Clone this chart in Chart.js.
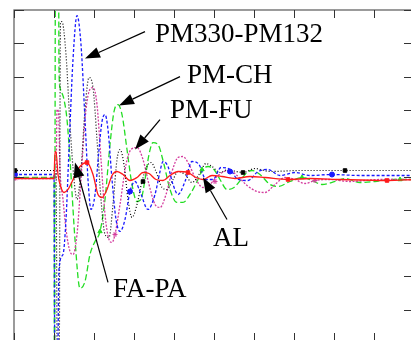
<!DOCTYPE html>
<html>
<head>
<meta charset="utf-8">
<script src="https://cdn.jsdelivr.net/npm/chart.js@4.4.0/dist/chart.umd.min.js"></script>
<style>
  html, body { margin: 0; padding: 0; background: #fff; overflow: hidden; }
  #wrap { position: absolute; left: 0; top: 0; width: 420px; height: 350px; }
</style>
</head>
<body>
<div id="wrap"><canvas id="myChart" width="420" height="350"></canvas></div>
<script>
// time axis 0..100, amplitude axis -50..50 (no labels on the original)
const xTicks = [0, 10, 20, 30, 40, 50, 60, 70, 80, 90, 100];
const yTicks = [-50, -40, -30, -20, -10, 0, 10, 20, 30, 40, 50];

// PM-CH (green dashed)
const chT = [0, 10, 10.12, 10.38, 11.12, 11.25, 11.5, 12.5, 13.25, 14, 15.25, 16.5, 17.75, 19, 20.25, 21.5, 22.75, 24, 25, 26, 27, 28.25, 29.5, 30.75, 31.75, 32.75, 33.75, 34.75, 36, 37.5, 39, 40.75, 42.25, 44, 45.75, 47.25, 48.5, 50, 51.5, 53.25, 55, 56.75, 58.25, 59.5, 61.5, 64, 66, 69, 72, 74.5, 77, 80.25, 82.75, 86.5, 90.25, 94, 100];
const chV = [-0.3, -0.3, -72.9, 71.1, 71.1, 32.1, 26.7, 23.1, 17.1, 5.1, -18.9, -33.6, -31.5, -23.4, -19.5, -16.5, -6.9, 9.6, 19.5, 21.6, 18.6, 8.1, -2.4, -7.5, -6.9, -0.9, 6.6, 10.2, 9.6, 3.6, -3.9, -7.8, -7.8, -5.4, -1.5, 2.1, 3, 2.1, -0.9, -3.9, -3.3, -0.9, 1.2, 1.8, 0.6, -2.4, -3, -1.5, -0.3, -1.2, -2.4, -1.5, -0.6, -1.8, -1.5, -0.9, -0.9];

// PM330-PM132 (blue dashed)
const pmT = [0, 10, 10.25, 10.75, 11.25, 12.25, 13, 13.75, 14.75, 15.75, 16.75, 17.75, 18.5, 19.25, 20.25, 21.25, 22, 22.75, 23.5, 24.5, 25.5, 26.5, 27.75, 29, 30.25, 31.5, 33.5, 35.25, 36.5, 37.25, 38.5, 39.75, 41, 42.75, 44.5, 46.25, 48, 49.75, 51.75, 54, 56, 58.5, 61, 63.5, 66.5, 70.25, 74, 79.5, 86.5, 94, 100];
const pmV = [0.6, 0.6, -72.9, -72.9, -27.9, -23.4, -12.9, 8.1, 35.1, 48.3, 39.6, 17.1, -0.9, -9.9, -5.4, 8.1, 16.5, 18.6, 14.1, -0.9, -12.9, -16.5, -12.9, -4.5, -1.5, -4.5, -9.9, -5.4, 1.5, 4.5, 3, -2.4, -5.4, -1.5, 4.5, 3.6, -0.9, -0.9, 2.7, 2.1, -0.9, -1.2, 1.5, 2.1, 0.3, 1.2, 0.3, 0.6, 0.3, 0.3, 0.3];

// FA-PA (black dotted)
const faT = [0, 10.5, 10.88, 11.25, 11.62, 12, 13, 14, 15, 15.75, 16.75, 17.75, 18.75, 19.75, 20.75, 21.75, 22.75, 23.75, 24.75, 25.75, 26.5, 27.5, 28.5, 29.5, 30.75, 32, 33.25, 34.25, 35.5, 37, 38.25, 39.75, 41, 42.75, 44.5, 46.25, 48, 49.5, 51.5, 53.5, 55.5, 57.25, 60.25, 64, 71.5, 82.75, 100];
const faV = [1.8, 1.8, -72.9, -72.9, 46.2, 46.5, 36.6, 15.6, -0.9, -6.9, 2.1, 20.1, 29.7, 26.7, 11.1, -6.9, -17.4, -18.3, -8.4, 5.1, 8.1, 3.6, -6.9, -12.3, -8.4, -1.5, 3, 4.2, 1.5, -3.3, -3.9, -0.9, 1.5, 0.6, -1.8, 0.6, 3.9, 3, 1.2, 2.1, 1.5, 1.2, 2.4, 1.5, 1.8, 1.8, 1.8];

// PM-FU (magenta dotted)
const fuT = [0, 10.5, 10.75, 11.12, 11.5, 12.25, 13, 14, 14.75, 15.75, 16.75, 17.75, 18.75, 19.75, 20.75, 21.75, 22.75, 23.75, 24.5, 25.25, 26.5, 28, 29.25, 30.75, 32.25, 33.75, 35.25, 36.5, 38, 39.5, 41, 42.25, 43.75, 45.5, 47.25, 49, 50.75, 52.5, 54, 55.75, 58.25, 60.75, 62.75, 65.25, 67.75, 70.25, 72.75, 75.25, 79, 84, 91.5, 100];
const fuV = [-0.6, -0.6, 20.1, 19.5, 2.1, -6.9, -15.9, -22.5, -23.4, -17.4, -0.9, 17.1, 25.5, 26.7, 21.6, 5.1, -11.4, -18.9, -19.8, -17.4, -8.4, 3.6, 8.1, 8.7, 5.1, -2.4, -8.4, -9.3, -5.4, 1.5, 5.7, 6, 3.6, -0.9, -3.3, -2.4, 0, 1.5, 1.8, 0.3, -2.7, -4.5, -4.8, -2.4, -0.3, -0.9, -2.1, -1.2, -0.9, -1.5, -0.9, -0.9];

// AL (red solid)
const alT = [0, 10, 10.25, 10.5, 11, 11.75, 12.5, 13.5, 15, 16.5, 18.25, 19.75, 21, 22, 23.25, 24.5, 25.75, 27.25, 29, 30.75, 32.25, 33.75, 35.5, 37.25, 39, 41, 43.5, 45.5, 47.25, 49.5, 52, 55.25, 59, 62.75, 68.5, 74, 81.5, 93.25, 100];
const alV = [-0.6, -0.6, 7.5, 7.5, 0.6, -3.3, -4.8, -3.9, -0.3, 3, 4.2, 0.6, -5.4, -6.3, -3.9, 0.3, 1.5, 0.6, -1.2, -0.3, 1.2, 0.9, -0.9, -1.2, 0.3, 1.5, 1.2, -0.3, -0.9, 0.3, 0, -0.6, 0, -0.3, -0.9, -0.6, -0.9, -1.2, -0.9];

// sparse symbols on each curve
const chMarkT = [21.5, 47, 72, 96.5];
const chMarkV = [-16.5, 2.1, -0.3, -0.9];
const pmMarkT = [0.25, 29, 54, 79.5];
const pmMarkV = [0.6, -4.5, 1.5, 0.6];
const faMarkT = [0.25, 32.25, 57.25, 82.75];
const faMarkV = [1.8, -1.5, 1.2, 1.8];
const fuMarkT = [0.25, 25.25, 50.25, 75.25];
const fuMarkV = [-0.6, -17.4, -1.5, -1.2];
const alMarkT = [18.25, 43.5, 68.5, 93.25];
const alMarkV = [4.2, 1.2, -0.9, -1.2];

// text labels: [text, x, y (baseline-left), arrow from x, from y, to x, to y]
const labels = [
  ['PM330-PM132', 35.25, 40.5, 32.75, 43.5, 17.75, 35.4],
  ['PM-CH', 43.25, 28.2, 41.5, 30, 26.25, 21.3],
  ['PM-FU', 39, 17.7, 36.5, 17.1, 30.25, 8.1],
  ['AL', 49.75, -21, 53.25, -12.9, 47.25, -0.3],
  ['FA-PA', 24.75, -36.3, 23.5, -31.8, 15.25, 4.2]
];

const toXY = (t, v) => t.map((x, i) => ({ x: x, y: v[i] }));

function lineSet(t, v, color, dash, width, order) {
  return {
    data: toXY(t, v),
    borderColor: color,
    borderDash: dash,
    borderWidth: width,
    pointRadius: 0,
    fill: false,
    cubicInterpolationMode: 'monotone',
    order: order
  };
}

function markSet(t, v, color, style, order) {
  return {
    data: toXY(t, v),
    showLine: false,
    borderColor: color,
    backgroundColor: color,
    pointStyle: style,
    pointRadius: 2.5,
    pointBorderWidth: 1,
    order: order
  };
}

const framePlugin = {
  id: 'frame',
  afterDraw(chart) {
    const ctx = chart.ctx;
    const xs = chart.scales.x, ys = chart.scales.y;
    const a = chart.chartArea;
    ctx.save();
    ctx.strokeStyle = '#666';
    ctx.lineWidth = 1.3;
    ctx.strokeRect(a.left, a.top, a.right - a.left, a.bottom - a.top);
    ctx.strokeStyle = '#333';
    ctx.lineWidth = 1;
    ctx.beginPath();
    xTicks.forEach(t => {
      const px = Math.round(xs.getPixelForValue(t)) + 0.5;
      ctx.moveTo(px, a.top); ctx.lineTo(px, a.top + 8);
      ctx.moveTo(px, a.bottom); ctx.lineTo(px, a.bottom - 10);
    });
    yTicks.forEach(v => {
      const py = Math.round(ys.getPixelForValue(v)) + 0.5;
      ctx.moveTo(a.left, py); ctx.lineTo(a.left + 10, py);
      ctx.moveTo(a.right, py); ctx.lineTo(a.right - 10, py);
    });
    ctx.stroke();

    // annotations
    ctx.fillStyle = '#000';
    ctx.strokeStyle = '#000';
    ctx.font = '27px "Liberation Serif", "Times New Roman", serif';
    ctx.textBaseline = 'alphabetic';
    labels.forEach(l => {
      ctx.fillText(l[0], xs.getPixelForValue(l[1]), ys.getPixelForValue(l[2]));
      const x1 = xs.getPixelForValue(l[3]), y1 = ys.getPixelForValue(l[4]);
      const x2 = xs.getPixelForValue(l[5]), y2 = ys.getPixelForValue(l[6]);
      const ang = Math.atan2(y2 - y1, x2 - x1);
      const len = 15, hw = 5.5;
      ctx.lineWidth = 1.2;
      ctx.beginPath();
      ctx.moveTo(x1, y1);
      ctx.lineTo(x2 - len * Math.cos(ang), y2 - len * Math.sin(ang));
      ctx.stroke();
      ctx.beginPath();
      ctx.moveTo(x2, y2);
      ctx.lineTo(x2 - len * Math.cos(ang) + hw * Math.sin(ang), y2 - len * Math.sin(ang) - hw * Math.cos(ang));
      ctx.lineTo(x2 - len * Math.cos(ang) - hw * Math.sin(ang), y2 - len * Math.sin(ang) + hw * Math.cos(ang));
      ctx.closePath();
      ctx.fill();
    });
    ctx.restore();
  }
};

const ctx = document.getElementById('myChart').getContext('2d');
new Chart(ctx, {
  type: 'line',
  data: {
    datasets: [
      lineSet(chT, chV, '#22dd22', [6, 3], 1.3, 4),
      lineSet(fuT, fuV, '#d43c9e', [2, 1.5], 1.3, 3),
      lineSet(faT, faV, '#000000', [1, 2], 1.2, 2),
      lineSet(pmT, pmV, '#1a1aff', [3, 2], 1.3, 1),
      lineSet(alT, alV, '#ff1a1a', [], 1.3, 0),
      markSet(chMarkT, chMarkV, '#22dd22', 'triangle', 0),
      markSet(fuMarkT, fuMarkV, '#d43c9e', 'star', 0),
      markSet(faMarkT, faMarkV, '#000000', 'rect', 0),
      markSet(pmMarkT, pmMarkV, '#1a1aff', 'circle', 0),
      markSet(alMarkT, alMarkV, '#ff1a1a', 'rect', 0)
    ]
  },
  options: {
    responsive: false,
    animation: false,
    devicePixelRatio: 1,
    layout: { padding: { left: 14, top: 10, right: 6, bottom: 7 } },
    plugins: { legend: { display: false }, tooltip: { enabled: false } },
    scales: {
      x: { type: 'linear', min: 0, max: 100, display: false },
      y: { type: 'linear', min: -50, max: 50, display: false }
    }
  },
  plugins: [framePlugin]
});
</script>
</body>
</html>
